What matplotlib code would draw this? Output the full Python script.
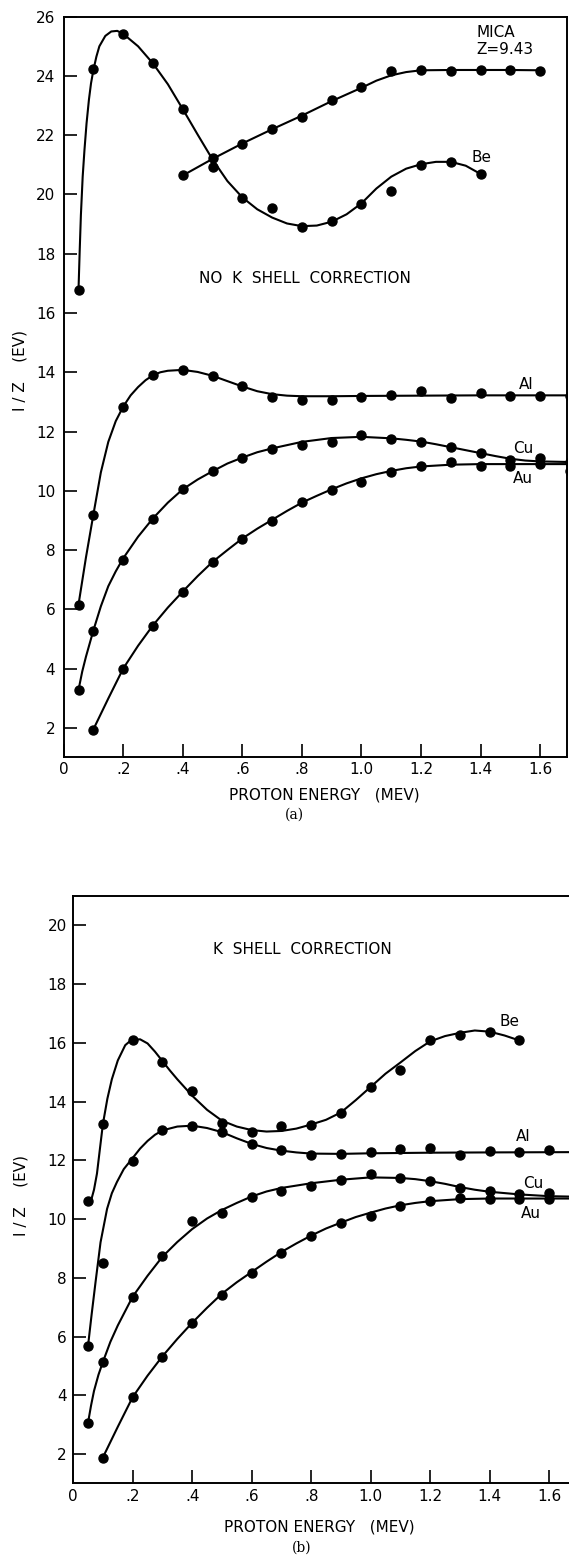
import matplotlib.pyplot as plt
from matplotlib.ticker import FixedLocator, FuncFormatter

# ---------------- panel (a): no K shell correction ----------------
energy_a = [0.05, 0.1, 0.2, 0.3, 0.4, 0.5, 0.6, 0.7, 0.8, 0.9,
            1.0, 1.1, 1.2, 1.3, 1.4, 1.5, 1.6, 1.7]
be_a = [16.78, 24.24, 25.42, 24.44, 22.88, 20.94, 19.87, 19.53, 18.9,
        19.1, 19.68, 20.13, 20.99, 21.11, 20.69]                       # 0.05..1.4
mica_a = [20.64, 21.22, 21.71, 22.22, 22.63, 23.2, 23.63, 24.17, 24.2,
          24.17, 24.2, 24.2, 24.18]                                    # 0.4..1.6
al_a = [6.16, 9.17, 12.82, 13.91, 14.07, 13.88, 13.52, 13.15, 13.06,
        13.06, 13.15, 13.24, 13.35, 13.13, 13.29, 13.21, 13.21, 13.2]
cu_a = [3.28, 5.28, 7.66, 9.05, 10.07, 10.66, 11.11, 11.42, 11.56,
        11.65, 11.87, 11.75, 11.66, 11.47, 11.27, 11.03, 11.1, 10.98]
au_a = [1.93, 3.99, 5.43, 6.58, 7.58, 8.38, 8.97, 9.62, 10.03, 10.28,
        10.65, 10.82, 10.97, 10.85, 10.85, 10.92, 10.68]               # 0.1..1.7

# hand drawn curves of panel (a)
be_a_cx = [0.05, 0.054, 0.058, 0.064, 0.07, 0.077, 0.085, 0.092, 0.1, 0.11,
           0.12, 0.14, 0.16, 0.18, 0.2, 0.25, 0.3, 0.35, 0.4, 0.45, 0.5, 0.55,
           0.6, 0.65, 0.7, 0.75, 0.8, 0.85, 0.9, 0.95, 1.0, 1.05, 1.1, 1.15,
           1.2, 1.25, 1.3, 1.35, 1.4]
be_a_cy = [16.78, 18.1, 19.3, 20.6, 21.5, 22.4, 23.2, 23.75, 24.2, 24.65,
           25.0, 25.35, 25.5, 25.52, 25.42, 25.0, 24.42, 23.72, 22.88, 22.02,
           21.18, 20.45, 19.9, 19.5, 19.22, 19.02, 18.93, 18.95, 19.08, 19.33,
           19.7, 20.2, 20.6, 20.87, 21.02, 21.1, 21.1, 20.97, 20.69]
mica_a_cx = [0.4, 0.5, 0.6, 0.7, 0.8, 0.9, 1.0, 1.05, 1.1, 1.15, 1.2, 1.3,
             1.4, 1.5, 1.6]
mica_a_cy = [20.64, 21.2, 21.72, 22.2, 22.66, 23.15, 23.6, 23.84, 24.02,
             24.13, 24.19, 24.2, 24.2, 24.2, 24.19]
al_a_cx = [0.05, 0.075, 0.1, 0.125, 0.15, 0.175, 0.2, 0.225, 0.25, 0.275,
           0.3, 0.325, 0.35, 0.4, 0.45, 0.5, 0.55, 0.6, 0.65, 0.7, 0.75, 0.8,
           0.9, 1.0, 1.2, 1.4, 1.7]
al_a_cy = [6.16, 7.75, 9.2, 10.62, 11.65, 12.35, 12.84, 13.22, 13.5, 13.73,
           13.9, 14.0, 14.05, 14.08, 14.01, 13.88, 13.7, 13.52, 13.36, 13.26,
           13.21, 13.19, 13.19, 13.2, 13.21, 13.22, 13.22]
cu_a_cx = [0.05, 0.0625, 0.075, 0.1, 0.125, 0.15, 0.175, 0.2, 0.25, 0.3,
           0.35, 0.4, 0.45, 0.5, 0.55, 0.6, 0.65, 0.7, 0.8, 0.9, 1.0, 1.1,
           1.15, 1.2, 1.25, 1.3, 1.35, 1.4, 1.45, 1.5, 1.55, 1.6, 1.7]
cu_a_cy = [3.28, 3.9, 4.4, 5.29, 6.1, 6.78, 7.28, 7.72, 8.45, 9.07, 9.6,
           10.05, 10.38, 10.66, 10.92, 11.12, 11.3, 11.43, 11.65, 11.78, 11.82,
           11.77, 11.72, 11.66, 11.57, 11.47, 11.37, 11.27, 11.17, 11.08,
           11.02, 10.99, 10.97]
au_a_cx = [0.1, 0.15, 0.2, 0.25, 0.3, 0.35, 0.4, 0.45, 0.5, 0.55, 0.6, 0.65,
           0.7, 0.75, 0.8, 0.85, 0.9, 0.95, 1.0, 1.05, 1.1, 1.15, 1.2, 1.3,
           1.4, 1.5, 1.6, 1.7]
au_a_cy = [1.95, 2.99, 4.0, 4.77, 5.46, 6.06, 6.6, 7.12, 7.6, 8.0, 8.39,
           8.72, 9.02, 9.32, 9.6, 9.83, 10.05, 10.25, 10.42, 10.56, 10.67,
           10.76, 10.82, 10.88, 10.9, 10.9, 10.9, 10.9]

# ---------------- panel (b): K shell correction ----------------
energy_b = [0.05, 0.1, 0.2, 0.3, 0.4, 0.5, 0.6, 0.7, 0.8, 0.9,
            1.0, 1.1, 1.2, 1.3, 1.4, 1.5, 1.6]
be_b = [10.63, 13.24, 16.11, 15.35, 14.35, 13.26, 12.96, 13.18, 13.22,
        13.61, 14.51, 15.08, 16.08, 16.28, 16.36, 16.08]               # 0.05..1.5
al_b = [5.69, 8.5, 11.98, 13.02, 13.18, 12.96, 12.55, 12.34, 12.17,
        12.23, 12.3, 12.39, 12.43, 12.19, 12.32, 12.27, 12.36]
cu_b = [3.07, 5.12, 7.35, 8.73, 9.93, 10.2, 10.75, 10.95, 11.13, 11.32,
        11.52, 11.4, 11.3, 11.07, 10.96, 10.84, 10.9]
au_b = [1.87, 3.93, 5.3, 6.45, 7.43, 8.16, 8.84, 9.41, 9.86, 10.09,
        10.46, 10.6, 10.72, 10.68, 10.68, 10.68]                       # 0.1..1.6

be_b_cx = [0.05, 0.062, 0.07, 0.08, 0.09, 0.1, 0.115, 0.13, 0.15, 0.175,
           0.19, 0.2, 0.225, 0.25, 0.275, 0.3, 0.325, 0.35, 0.4, 0.45, 0.5,
           0.55, 0.6, 0.65, 0.7, 0.75, 0.8, 0.85, 0.9, 0.95, 1.0, 1.05, 1.1,
           1.15, 1.2, 1.25, 1.3, 1.35, 1.4, 1.45, 1.5]
be_b_cy = [10.63, 10.7, 11.0, 11.55, 12.4, 13.24, 14.1, 14.76, 15.4, 15.92,
           16.05, 16.1, 16.12, 15.98, 15.7, 15.38, 15.06, 14.76, 14.2, 13.72,
           13.35, 13.15, 13.03, 12.98, 13.0, 13.08, 13.22, 13.38, 13.63, 14.05,
           14.5, 14.95, 15.33, 15.72, 16.05, 16.23, 16.34, 16.42, 16.38, 16.25,
           16.08]
al_b_cx = [0.05, 0.062, 0.075, 0.092, 0.114, 0.13, 0.147, 0.17, 0.2, 0.225,
           0.25, 0.275, 0.3, 0.35, 0.4, 0.45, 0.5, 0.55, 0.6, 0.65, 0.7, 0.75,
           0.8, 0.9, 1.0, 1.2, 1.4, 1.7]
al_b_cy = [5.69, 6.75, 7.84, 9.21, 10.35, 10.88, 11.26, 11.7, 12.08, 12.4,
           12.66, 12.87, 13.02, 13.15, 13.18, 13.1, 12.96, 12.75, 12.56, 12.42,
           12.33, 12.27, 12.23, 12.22, 12.24, 12.26, 12.27, 12.28]
cu_b_cx = [0.05, 0.06, 0.07, 0.085, 0.1, 0.125, 0.15, 0.2, 0.25, 0.3, 0.35,
           0.4, 0.45, 0.5, 0.55, 0.6, 0.65, 0.7, 0.8, 0.9, 1.0, 1.1, 1.15,
           1.2, 1.25, 1.3, 1.35, 1.4, 1.5, 1.6, 1.7]
cu_b_cy = [3.07, 3.65, 4.15, 4.7, 5.14, 5.82, 6.38, 7.36, 8.07, 8.72, 9.22,
           9.66, 10.02, 10.31, 10.55, 10.77, 10.94, 11.06, 11.22, 11.34,
           11.42, 11.4, 11.36, 11.29, 11.2, 11.09, 11.0, 10.93, 10.84, 10.78,
           10.76]
au_b_cx = [0.1, 0.15, 0.2, 0.25, 0.3, 0.35, 0.4, 0.45, 0.5, 0.55, 0.6, 0.65,
           0.7, 0.75, 0.8, 0.85, 0.9, 0.95, 1.0, 1.05, 1.1, 1.15, 1.2, 1.3,
           1.4, 1.5, 1.7]
au_b_cy = [1.89, 2.93, 3.94, 4.67, 5.33, 5.92, 6.47, 6.98, 7.46, 7.85, 8.2,
           8.55, 8.88, 9.17, 9.44, 9.68, 9.88, 10.07, 10.22, 10.36, 10.47,
           10.55, 10.61, 10.68, 10.7, 10.7, 10.7]

x_ticks = [0, 0.2, 0.4, 0.6, 0.8, 1.0, 1.2, 1.4, 1.6]


def energy_label(v, pos):
    if v == 0:
        return '0'
    s = '%.1f' % v
    return s[1:] if v < 1 else s


def style_axes(ax, ylim, yticks, xlim, ypad, xpad):
    ax.set_xlim(*xlim)
    ax.set_ylim(*ylim)
    ax.xaxis.set_major_locator(FixedLocator(x_ticks))
    ax.xaxis.set_major_formatter(FuncFormatter(energy_label))
    ax.yaxis.set_major_locator(FixedLocator(yticks))
    ax.tick_params(direction='in', length=9.5, width=1.2, labelsize=11,
                   top=False, right=False)
    ax.tick_params(axis='y', pad=ypad)
    ax.tick_params(axis='x', pad=xpad)
    for sp in ax.spines.values():
        sp.set_linewidth(1.4)


def draw(ax, cx, cy, px, py):
    ax.plot(cx, cy, color='black', lw=1.5, solid_joinstyle='round')
    ax.plot(px, py, 'o', color='black', ms=6.5)


plt.rcParams['font.family'] = ['DejaVu Sans']
fig = plt.figure(figsize=(5.69, 15.56), dpi=100)

# panel (a)
ax1 = fig.add_axes([0.1118, 0.5132, 0.8847, 0.4761])
style_axes(ax1, (1, 26), list(range(2, 27, 2)), (0, 1.69), 6, 3.5)
draw(ax1, be_a_cx, be_a_cy, energy_a[:15], be_a)
draw(ax1, mica_a_cx, mica_a_cy, energy_a[4:17], mica_a)
draw(ax1, al_a_cx, al_a_cy, energy_a, al_a)
draw(ax1, cu_a_cx, cu_a_cy, energy_a, cu_a)
draw(ax1, au_a_cx, au_a_cy, energy_a[1:], au_a)
ax1.text(1.385, 25.45, 'MICA', fontsize=11, ha='left', va='center')
ax1.text(1.385, 24.88, 'Z=9.43', fontsize=11, ha='left', va='center')
ax1.text(1.404, 21.23, 'Be', fontsize=11, ha='center', va='center')
ax1.text(1.554, 13.57, 'Al', fontsize=11, ha='center', va='center')
ax1.text(1.542, 11.44, 'Cu', fontsize=11, ha='center', va='center')
ax1.text(1.542, 10.4, 'Au', fontsize=11, ha='center', va='center')
ax1.text(0.811, 17.18, 'NO  K  SHELL  CORRECTION', fontsize=11,
         ha='center', va='center')
ax1.set_ylabel('I / Z    (EV)', fontsize=11)
ax1.yaxis.set_label_coords(-0.0727, 0.523)
ax1.set_xlabel('PROTON ENERGY   (MEV)', fontsize=11)
ax1.xaxis.set_label_coords(0.5187, -0.041)
fig.text(0.5178, 0.4762, '(a)', family='DejaVu Serif', fontsize=10,
         ha='center', va='center')

# panel (b)
ax2 = fig.add_axes([0.1286, 0.0466, 0.8888, 0.3776])
style_axes(ax2, (1, 21), list(range(2, 21, 2)), (0, 1.7), 4.5, 4)
ax2.spines['right'].set_visible(False)
draw(ax2, be_b_cx, be_b_cy, energy_b[:16], be_b)
draw(ax2, al_b_cx, al_b_cy, energy_b, al_b)
draw(ax2, cu_b_cx, cu_b_cy, energy_b, cu_b)
draw(ax2, au_b_cx, au_b_cy, energy_b[1:], au_b)
ax2.text(0.772, 19.19, 'K  SHELL  CORRECTION', fontsize=11,
         ha='center', va='center')
ax2.text(1.468, 16.73, 'Be', fontsize=11, ha='center', va='center')
ax2.text(1.514, 12.8, 'Al', fontsize=11, ha='center', va='center')
ax2.text(1.546, 11.21, 'Cu', fontsize=11, ha='center', va='center')
ax2.text(1.537, 10.2, 'Au', fontsize=11, ha='center', va='center')
ax2.set_ylabel('I / Z    (EV)', fontsize=11)
ax2.yaxis.set_label_coords(-0.0874, 0.49)
ax2.set_xlabel('PROTON ENERGY   (MEV)', fontsize=11)
ax2.xaxis.set_label_coords(0.486, -0.062)
fig.text(0.5308, 0.0051, '(b)', family='DejaVu Serif', fontsize=10,
         ha='center', va='center')

fig.savefig('out.png', dpi=100)
